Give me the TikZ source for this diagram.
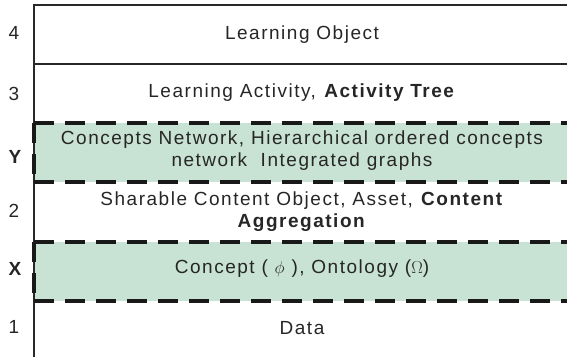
\documentclass[tikz,border=0pt]{standalone}
\usepackage{fontspec}
\setmainfont{Liberation Sans}
\usepackage{xcolor}
\usetikzlibrary{positioning}

\definecolor{layergreen}{RGB}{200,226,211}
\definecolor{layerline}{RGB}{40,40,40}

\tikzset{
  layertext/.style={align=center, text=black!85, font=\fontsize{19}{22}\selectfont\addfontfeatures{LetterSpace=8}},
  levellabel/.style={text=black!85, font=\fontsize{19}{22}\selectfont},
  solidrule/.style={draw=layerline, line width=1.5pt},
  dashrule/.style={draw=black!90, line width=4pt, dash pattern=on 20pt off 11pt}
}

\begin{document}
\begin{tikzpicture}[x=1pt, y=-1pt]
\useasboundingbox (0,0) rectangle (567,357);

% Shaded layers
\fill[layergreen] (34,123) rectangle (575,182);
\fill[layergreen] (34,242) rectangle (575,301);

% Frame
\draw[solidrule] (34,357) -- (34,5) -- (575,5);
\draw[solidrule] (34,64) -- (575,64);

% Dashed layers
\draw[dashrule] (34,123) -- (575,123);
\draw[dashrule] (34,182) -- (575,182);
\draw[dashrule] (34,123) -- (34,182);
\draw[dashrule] (34,242) -- (575,242);
\draw[dashrule] (34,301) -- (575,301);
\draw[dashrule] (34,242) -- (34,301);

% Level labels
\node[levellabel] (lab4) at (14,33) {4};
\node[levellabel] (lab3) at (14,94) {3};
\node[levellabel] (labY) at (15,157) {\textbf{Y}};
\node[levellabel] (lab2) at (14,211) {2};
\node[levellabel] (labX) at (15,269) {\textbf{X}};
\node[levellabel] (lab1) at (14,327) {1};

% Layer contents
\node[layertext] (lobject) at (302,35) {Learning Object};
\node[layertext] (lactivity) at (302,93) {Learning Activity, \textbf{Activity Tree}};
\node[layertext] (cnetwork) at (302,151) {Concepts Network, Hierarchical ordered concepts\\network\ \ Integrated graphs};
\node[layertext] (sco) at (302,212) {Sharable Content Object, Asset, \textbf{Content}\\\textbf{Aggregation}};
\node[layertext] (concept) at (302,269) {Concept ( $\phi$ ), Ontology ($\Omega$)};
\node[layertext] (data) at (302,328) {Data};
\end{tikzpicture}
\end{document}
